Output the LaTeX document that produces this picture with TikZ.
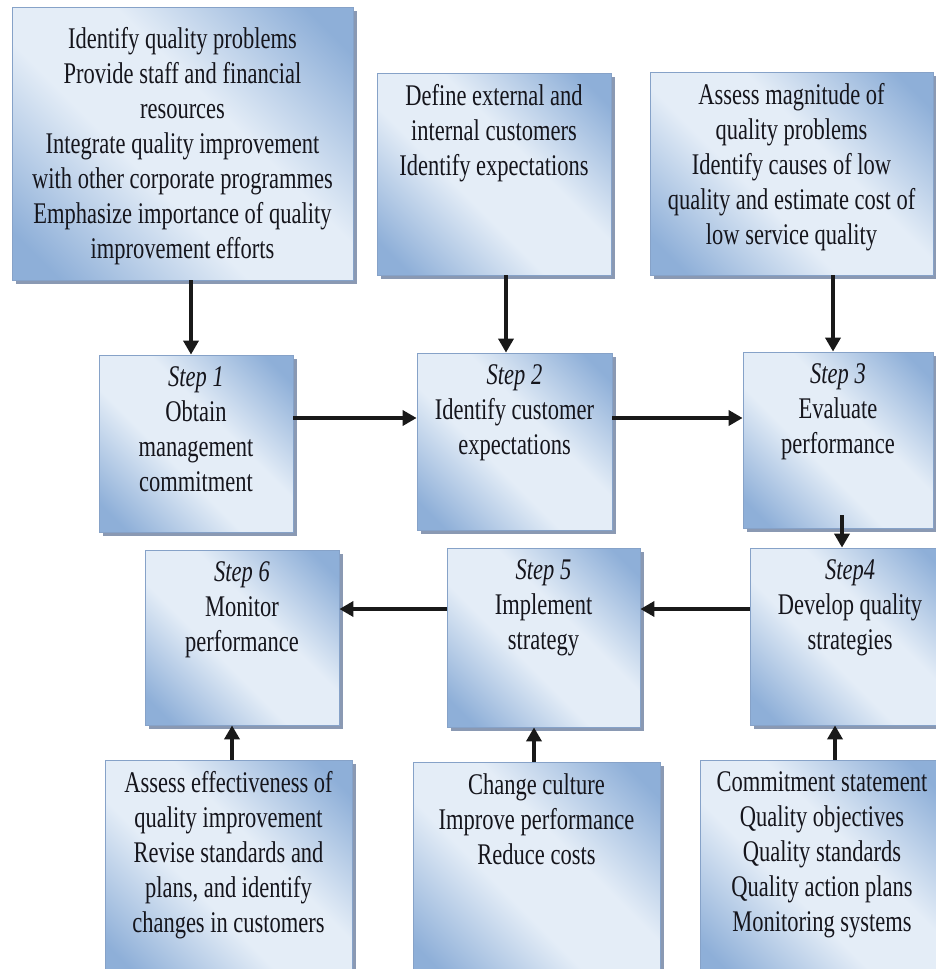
\documentclass[tikz,border=0pt]{standalone}
\usepackage{fontspec}
\setmainfont{Liberation Serif}[FakeStretch=0.75]
\usetikzlibrary{arrows.meta,shadows,calc}

\definecolor{boxedge}{HTML}{8EAFD8}
\definecolor{boxlight}{HTML}{E4EDF7}
\definecolor{boxline}{HTML}{86A2C8}
\definecolor{shadowc}{HTML}{8A99B3}
\definecolor{ink}{HTML}{15151C}

% diagonal fill: blue corners, pale band through the middle
\pgfdeclareverticalshading{boxshade}{100bp}{color(0bp)=(boxedge); color(20bp)=(boxedge); color(42bp)=(boxlight); color(58bp)=(boxlight); color(80bp)=(boxedge); color(100bp)=(boxedge)}

\tikzset{
  box/.style={draw=boxline, line width=0.8pt,
    shading=boxshade, shading angle=-45, inner sep=0pt,
    drop shadow={shadow xshift=4pt, shadow yshift=-4pt, fill=shadowc, opacity=1}},
  txt/.style={font=\fontsize{30}{35}\selectfont, text=ink, align=center,
    inner sep=0pt, anchor=north, execute at begin node=\strut},
  arr/.style={line width=4.5pt, draw=black!90,
    -{Triangle[length=14pt,width=15pt]}}
}

\begin{document}
\begin{tikzpicture}[x=1pt, y=-1pt]
\fill[white] (0,0) rectangle (936,969);
\clip (0,0) rectangle (936,969);

% input boxes, top row
\node[box, minimum width=341pt, minimum height=273pt] (A) at (182.5,143.5) {};
\node[box, minimum width=234pt, minimum height=202pt] (B) at (494,174) {};
\node[box, minimum width=283pt, minimum height=203pt] (C) at (791.5,173.5) {};

% the six steps
\node[box, minimum width=194pt, minimum height=177pt] (S1) at (196,443.5) {};
\node[box, minimum width=195pt, minimum height=177pt] (S2) at (514.5,441.5) {};
\node[box, minimum width=190pt, minimum height=176pt] (S3) at (838,440) {};
\node[box, minimum width=194pt, minimum height=175pt] (S6) at (242,637.5) {};
\node[box, minimum width=193pt, minimum height=179pt] (S5) at (543.5,637.5) {};
\node[box, minimum width=200pt, minimum height=177pt] (S4) at (850,636.5) {};

% input boxes, bottom row
\node[box, minimum width=247pt, minimum height=220pt] (L) at (228.5,870) {};
\node[box, minimum width=247pt, minimum height=218pt] (M) at (536.5,871) {};
\node[box, minimum width=244pt, minimum height=220pt] (R) at (822,870) {};

% texts
\node[txt] (tA) at ([yshift=-20.5pt]A.north) {Identify quality problems\\Provide staff and financial\\resources\\Integrate quality improvement\\with other corporate programmes\\Emphasize importance of quality\\improvement efforts};
\node[txt] (tB) at ([yshift=-11.5pt]B.north) {Define external and\\internal customers\\Identify expectations};
\node[txt] (tC) at ([yshift=-11.5pt]C.north) {Assess magnitude of\\quality problems\\Identify causes of low\\quality and estimate cost of\\low service quality};

\node[txt] (t1) at ([yshift=-11.5pt]S1.north) {\textit{Step 1}\\Obtain\\management\\commitment};
\node[txt] (t2) at ([yshift=-11.5pt]S2.north) {\textit{Step 2}\\Identify customer\\expectations};
\node[txt] (t3) at ([yshift=-11.5pt]S3.north) {\textit{Step 3}\\Evaluate\\performance};
\node[txt] (t6) at ([yshift=-11.5pt]S6.north) {\textit{Step 6}\\Monitor\\performance};
\node[txt] (t5) at ([yshift=-11.5pt]S5.north) {\textit{Step 5}\\Implement\\strategy};
\node[txt] (t4) at ([yshift=-11.5pt]S4.north) {\textit{Step4}\\Develop quality\\strategies};

\node[txt] (tL) at ([yshift=-11.5pt]L.north) {Assess effectiveness of\\quality improvement\\Revise standards and\\plans, and identify\\changes in customers};
\node[txt] (tM) at ([yshift=-11.5pt]M.north) {Change culture\\Improve performance\\Reduce costs};
\node[txt] (tR) at ([yshift=-11.5pt]R.north) {Commitment statement\\Quality objectives\\Quality standards\\Quality action plans\\Monitoring systems};

% connector lanes
\coordinate (cA) at (191,0);
\coordinate (cB) at (506,0);
\coordinate (cC) at (833,0);
\coordinate (c34) at (842,0);
\coordinate (cL) at (232,0);
\coordinate (cM) at (534,0);
\coordinate (cR) at (835,0);
\coordinate (r1) at (0,418);
\coordinate (r2) at (0,609);

% connectors
\draw[arr] (A.south -| cA) -- (S1.north -| cA);
\draw[arr] (B.south -| cB) -- (S2.north -| cB);
\draw[arr] (C.south -| cC) -- (S3.north -| cC);
\draw[arr] (S1.east |- r1) -- (S2.west |- r1);
\draw[arr] (S2.east |- r1) -- (S3.west |- r1);
\draw[arr] ($(S3.south -| c34)+(0,-13)$) -- (S4.north -| c34);
\draw[arr] (S4.west |- r2) -- (S5.east |- r2);
\draw[arr] (S5.west |- r2) -- (S6.east |- r2);
\draw[arr] (L.north -| cL) -- (S6.south -| cL);
\draw[arr] (M.north -| cM) -- (S5.south -| cM);
\draw[arr] (R.north -| cR) -- (S4.south -| cR);
\end{tikzpicture}
\end{document}
